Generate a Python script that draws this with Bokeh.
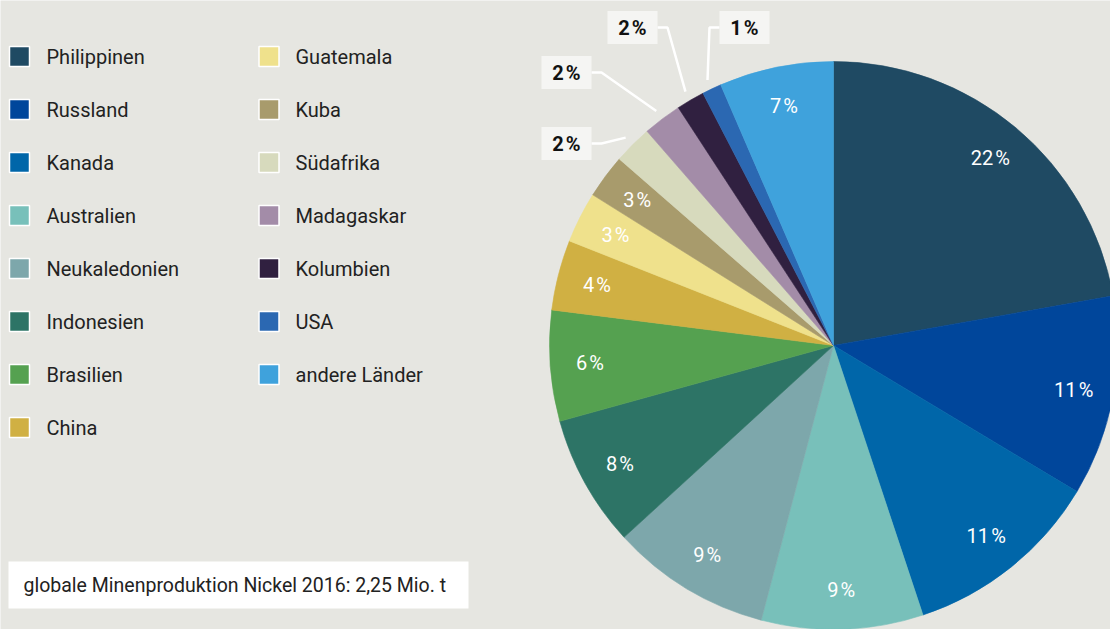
import math
from bokeh.plotting import figure
from bokeh.models import Range1d, ColumnDataSource
from bokeh.core.properties import value
from bokeh.embed import file_html
from bokeh.resources import INLINE

# ---------------- data ----------------
countries = ["Philippinen", "Russland", "Kanada", "Australien", "Neukaledonien",
             "Indonesien", "Brasilien", "China", "Guatemala", "Kuba", "Südafrika",
             "Madagaskar", "Kolumbien", "USA", "andere Länder"]
shares = [22.2, 11.4, 11.3, 9.2, 9.1, 7.5, 6.3, 4.0, 2.9, 2.5, 2.2, 2.2, 1.6, 1.1, 6.5]
colors = ["#1f4a63", "#00469b", "#0066a9", "#78c0ba", "#7da7ab", "#2d7466", "#55a150",
          "#d0b043", "#efe18c", "#a89b6c", "#d7dabd", "#a38ca8", "#302040", "#2b68b2",
          "#3fa2dc"]
note = "globale Minenproduktion Nickel 2016: 2,25 Mio. t"

# ---------------- layout ----------------
BG = "#e6e6e1"
FONT = "Roboto"
W, H = 1110, 629


def wy(y):
    # page y (downwards) -> data y (upwards)
    return H - y


p = figure(width=W, height=H, x_range=Range1d(0, W), y_range=Range1d(0, H),
           output_backend="svg", toolbar_location=None, min_border=0,
           background_fill_color=BG, border_fill_color=BG, outline_line_color=None,
           x_axis_type=None, y_axis_type=None)
p.xgrid.visible = False
p.ygrid.visible = False

cx, cy, r = 833, wy(345), 284
total = sum(shares)
cum = [0.0]
for s in shares:
    cum.append(cum[-1] + s)
starts = [math.pi / 2 - 2 * math.pi * c / total for c in cum[:-1]]
ends = [math.pi / 2 - 2 * math.pi * c / total for c in cum[1:]]
mids = [(a + b) / 2 for a, b in zip(starts, ends)]
labels = ["%d\u200a%%" % math.floor(s + 0.5) for s in shares]

src = ColumnDataSource(dict(start=starts, end=ends, color=colors))
p.wedge(x=cx, y=cy, radius=r, start_angle="start", end_angle="end", direction="clock",
        fill_color="color", line_color="color", line_width=0.6, source=src)

# inside labels
inside = [i for i, s in enumerate(shares) if s >= 2.3]
p.text(x=[cx + 0.86 * r * math.cos(mids[i]) for i in inside],
       y=[cy + 0.86 * r * math.sin(mids[i]) for i in inside],
       text=[labels[i] for i in inside], text_color="white",
       text_font=value(FONT), text_font_size="20px",
       text_align="center", text_baseline="middle")

# outside callouts (small slices)
outside = [i for i, s in enumerate(shares) if s < 2.3]
box_pos = [(566, 143), (566, 72), (632, 27), (744, 27)]  # page coords of label boxes
BW, BH = 50, 33
xs_l, ys_l = [], []
for i, (bx, by) in zip(outside, box_pos):
    sx = cx + 1.035 * r * math.cos(mids[i])
    sy = cy + 1.035 * r * math.sin(mids[i])
    if bx < sx:
        edge = bx + BW / 2
        elbow = edge + 10
    else:
        edge = bx - BW / 2
        elbow = edge - 10
    xs_l.append([sx, elbow, edge])
    ys_l.append([sy, wy(by), wy(by)])
p.multi_line(xs=xs_l, ys=ys_l, line_color="white", line_width=2.5)
p.rect(x=[b[0] for b in box_pos], y=[wy(b[1]) for b in box_pos], width=BW, height=BH,
       fill_color="#f5f5f3", line_color=None)
p.text(x=[b[0] for b in box_pos], y=[wy(b[1]) for b in box_pos],
       text=[labels[i] for i in outside], text_color="#111111",
       text_font=value(FONT), text_font_size="20px", text_font_style="bold",
       text_align="center", text_baseline="middle")

# legend
ROWS = 8
sw_x = [19, 268.5]
tx_x = [46, 295]
lx, ly, tx = [], [], []
for i in range(len(countries)):
    col, row = divmod(i, ROWS)
    lx.append(sw_x[col])
    ly.append(wy(56 + 53 * row))
    tx.append(tx_x[col])
p.rect(x=lx, y=ly, width=20, height=20, fill_color=colors, line_color="white", line_width=1.5)
p.text(x=tx, y=ly, text=countries, text_color="#222222", text_font=value(FONT),
       text_font_size="20px", text_align="left", text_baseline="middle")

# note box
p.rect(x=238, y=wy(584.5), width=460, height=47, fill_color="white", line_color=None)
p.text(x=[23], y=[wy(584.5)], text=[note], text_color="#222222", text_font=value(FONT),
       text_font_size="19.5px", text_align="left", text_baseline="middle")

open("out.html", "w").write(file_html(p, INLINE))
